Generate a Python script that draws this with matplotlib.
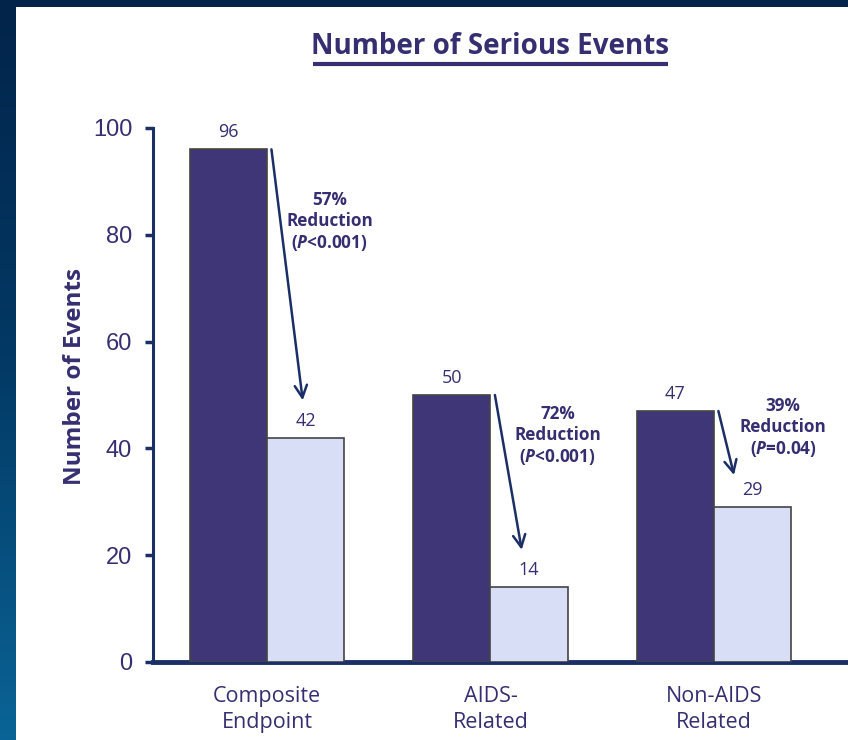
import numpy as np
import matplotlib
matplotlib.use("Agg")
import matplotlib.pyplot as plt
from matplotlib.patches import Rectangle
from matplotlib.colors import LinearSegmentedColormap

# Data
categories = ["Composite\nEndpoint", "AIDS-\nRelated", "Non-AIDS\nRelated"]
deferred = [96, 50, 47]
immediate = [42, 14, 29]
reductions = ["57%", "72%", "39%"]
p_values = ["<0.001", "<0.001", "=0.04"]
yticks = [0, 20, 40, 60, 80, 100]

plt.rcParams["mathtext.fontset"] = "custom"
plt.rcParams["mathtext.it"] = "Open Sans:italic:bold"
plt.rcParams["mathtext.rm"] = "Open Sans:bold"

W, H = 848, 740
fig = plt.figure(figsize=(W / 100, H / 100), dpi=100)
fig.patch.set_facecolor("white")

# Slide frame: navy band on top, gradient strip on the left
bg = fig.add_axes([0, 0, 1, 1], zorder=-10)
bg.axis("off")
bg.add_patch(Rectangle((0, 0), W, 7, color="#02244A", lw=0))
grad = LinearSegmentedColormap.from_list("strip", ["#02244A", "#033a66", "#0a6496"])
bg.imshow(np.linspace(0, 1, 256)[:, None], cmap=grad, aspect="auto",
          extent=[0, 16, H, 0], origin="upper")
bg.set_xlim(0, W)
bg.set_ylim(H, 0)

navy = "#1B2F66"
dark_bar = "#3F3677"
light_bar = "#D7DEF5"
text_col = "#352F72"

ax = fig.add_axes([153 / W, 1 - 662 / H, 1 - 153 / W, (662 - 128) / H])
x = np.arange(len(categories))
w = 0.345
ax.bar(x - w / 2, deferred, w, color=dark_bar, edgecolor="#444444", lw=1.2, zorder=3)
ax.bar(x + w / 2, immediate, w, color=light_bar, edgecolor="#444444", lw=1.2, zorder=3)

ax.set_xlim(-0.51, 2.6)
ax.set_ylim(0, 100)
for s in ["top", "right"]:
    ax.spines[s].set_visible(False)
ax.spines["left"].set_color(navy)
ax.spines["left"].set_linewidth(2.2)
ax.spines["bottom"].set_color(navy)
ax.spines["bottom"].set_linewidth(3.5)
ax.set_yticks(yticks)
ax.tick_params(axis="y", direction="out", length=6, width=2.5, color=navy,
               labelsize=17, labelcolor=text_col, pad=9)
for lab in ax.get_yticklabels():
    lab.set_fontfamily("Liberation Sans")
ax.set_xticks(x)
ax.set_xticklabels(categories, fontsize=15.5, color=text_col, fontfamily="Open Sans",
                   linespacing=1.35)
ax.tick_params(axis="x", length=0, pad=17)
ax.set_ylabel("Number of Events", fontsize=17.5, fontweight="bold", color=text_col,
              fontfamily="Open Sans")
ax.yaxis.set_label_coords(-0.095, 0.534)

# Value labels
for xi, d, im in zip(x, deferred, immediate):
    ax.text(xi - w / 2, d + 1.5, str(d), ha="center", va="bottom", fontsize=13,
            color=text_col, fontfamily="Open Sans")
    ax.text(xi + w / 2, im + 1.5, str(im), ha="center", va="bottom", fontsize=13,
            color=text_col, fontfamily="Open Sans")

# Reduction arrows and notes
arrow_end_dx = [0.16, 0.14, 0.09]
arrow_end_dy = [7, 7, 6]
note_dx = [0.28, 0.30, 0.31]
note_y = [82.4, 42.3, 43.8]
for xi, d, im, ex, ey, ndx, ny, r, p in zip(x, deferred, immediate, arrow_end_dx,
                                             arrow_end_dy, note_dx, note_y,
                                             reductions, p_values):
    ax.annotate("", xy=(xi + ex, im + ey), xytext=(xi + 0.02, d),
                arrowprops=dict(arrowstyle="->", color=navy, lw=1.8,
                                mutation_scale=22, shrinkA=0, shrinkB=0),
                zorder=5)
    ax.text(xi + ndx, ny, f"{r}\nReduction\n($P${p})", ha="center", va="center",
            fontsize=12.3, fontweight="bold", color=text_col, fontfamily="Open Sans",
            linespacing=1.2, zorder=5)

# Title with underline
fig.text(490 / W, 1 - 47 / H, "Number of Serious Events", ha="center", va="center",
         fontsize=20, fontweight="bold", color=text_col, fontfamily="Open Sans")
bg.plot([313, 668], [63.5, 63.5], color="#3A2F72", lw=3, solid_capstyle="butt")

fig.savefig("out.png", dpi=100)
